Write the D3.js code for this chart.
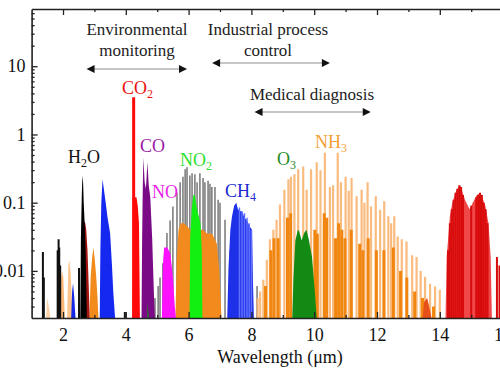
<!DOCTYPE html>
<html><head><meta charset="utf-8">
<script src="https://cdn.jsdelivr.net/npm/d3@7"></script>
<style>
body{margin:0;background:#fff}
svg{display:block}
</style>
</head><body>
<svg id="c" width="500" height="383"></svg>
<script>
// ---------------- data ----------------
const xMajorTicks = [2,4,6,8,10,12,14,16];
const xMinorTicks = [3,5,7,9,11,13,15];
const yTicks = [0.01,0.1,1,10];
const yTickLabels = ["0.01","0.1","1","10"];

// H2O (black)
const h2oSticks = [[1.36,0.019],[1.39,0.008],[1.83,0.02],[1.86,0.029],[1.88,0.022],[1.91,0.012],[2.51,0.011],[3.97,0.0025]];
const h2oBand27 = [[2.55,0.002],[2.57,0.03],[2.6,0.14],[2.62,0.25],[2.64,0.2],[2.66,0.1],[2.69,0.05],[2.72,0.02],[2.74,0.006],[2.76,0.002]];
// H2O 6.3 um band lines (grey)
const h2oSticks63 = [[4.93,0.004],[5.03,0.006],[5.09,0.008],[5.18,0.013],[5.31,0.036],[5.41,0.055],[5.5,0.088],[5.63,0.14],[5.73,0.2],[5.82,0.24],[5.89,0.31],[5.95,0.33],[6.04,0.25],[6.11,0.27],[6.2,0.26],[6.27,0.2],[6.36,0.27],[6.46,0.23],[6.52,0.2],[6.62,0.21],[6.68,0.19],[6.74,0.17],[6.84,0.17],[6.94,0.11],[7.0,0.1],[7.16,0.056],[7.32,0.02],[8.18,0.006]];

// CO2 (red)
const co2Band27 = [[2.62,0.002],[2.64,0.03],[2.67,0.053],[2.71,0.05],[2.74,0.04],[2.78,0.02],[2.82,0.006],[2.85,0.002]];
const co2Band43 = [[4.21,0.002],[4.22,0.12],[4.34,0.12],[4.38,0.09],[4.42,0.05],[4.45,0.002]];
const co2Peak43 = [[4.25,3.5]];
const co2Band15 = [[14.18,0.002],[14.22,0.016],[14.32,0.063],[14.4,0.1],[14.52,0.15],[14.65,0.18],[14.8,0.11],[14.95,0.08],[15.05,0.1],[15.18,0.13],[15.3,0.14],[15.45,0.09],[15.55,0.05],[15.62,0.016],[15.66,0.002]];
const co2Sticks15 = [[14.26,0.02],[14.32,0.05],[14.38,0.08],[14.44,0.11],[14.5,0.14],[14.56,0.16],[14.62,0.18],[14.68,0.17],[14.74,0.13],[15.0,0.09],[15.16,0.12],[15.22,0.13],[15.28,0.14],[15.34,0.13],[15.4,0.1],[15.46,0.08],[15.52,0.05],[15.82,0.016],[15.9,0.012]];
const co2Band137 = [[13.45,0.002],[13.5,0.0035],[13.6,0.004],[13.7,0.0025],[13.74,0.002]];

// CO (purple)
const coBand = [[4.5,0.002],[4.52,0.03],[4.54,0.16],[4.56,0.46],[4.6,0.2],[4.64,0.16],[4.69,0.39],[4.73,0.18],[4.78,0.12],[4.84,0.03],[4.9,0.004],[4.93,0.002]];
// NO (magenta)
const noBand = [[5.15,0.002],[5.18,0.012],[5.22,0.022],[5.32,0.022],[5.42,0.018],[5.5,0.008],[5.56,0.003],[5.6,0.002]];
// NO2 (green)
const no2Band = [[6.03,0.002],[6.05,0.03],[6.1,0.08],[6.15,0.13],[6.2,0.13],[6.25,0.09],[6.3,0.07],[6.38,0.05],[6.42,0.02],[6.44,0.002]];
// CH4 (blue)
const ch4Band23 = [[2.26,0.002],[2.29,0.005],[2.32,0.0066],[2.36,0.004],[2.4,0.002]];
const ch4Band33 = [[3.17,0.002],[3.19,0.02],[3.22,0.1],[3.26,0.22],[3.3,0.16],[3.36,0.1],[3.42,0.06],[3.5,0.036],[3.56,0.012],[3.6,0.005],[3.66,0.002]];
const ch4Band77 = [[7.23,0.002],[7.27,0.011],[7.33,0.04],[7.38,0.062],[7.45,0.09],[7.52,0.1],[7.57,0.08],[7.63,0.075],[7.7,0.075],[7.78,0.06],[7.86,0.055],[7.94,0.045],[8.02,0.04],[8.05,0.007],[8.08,0.002]];
const ch4Sticks77 = [[7.62,0.085],[7.7,0.075],[7.78,0.07],[7.86,0.06],[7.93,0.05],[8.0,0.04]];
// O3 (dark green)
const o3Band96 = [[9.3,0.002],[9.34,0.008],[9.4,0.028],[9.48,0.04],[9.52,0.038],[9.6,0.028],[9.68,0.036],[9.75,0.04],[9.82,0.03],[9.93,0.016],[10.02,0.005],[10.08,0.002]];
const o3Band47 = [[4.68,0.002],[4.7,0.0035],[4.73,0.002]];
// NH3 (orange)
const nh3Band15 = [[1.46,0.002],[1.5,0.004],[1.55,0.003],[1.6,0.002]];
const nh3Band20 = [[1.9,0.002],[1.93,0.007],[1.97,0.01],[2.01,0.008],[2.06,0.002]];
const nh3Band22 = [[2.13,0.002],[2.17,0.012],[2.2,0.0145],[2.24,0.01],[2.28,0.004],[2.31,0.002]];
const nh3Band30 = [[2.84,0.002],[2.88,0.008],[2.93,0.016],[2.97,0.022],[3.01,0.015],[3.06,0.008],[3.1,0.004],[3.13,0.002]];
const nh3Band61 = [[5.58,0.002],[5.62,0.015],[5.68,0.04],[5.75,0.05],[5.85,0.05],[5.95,0.045],[6.05,0.04],[6.45,0.04],[6.6,0.035],[6.75,0.035],[6.9,0.025],[6.98,0.01],[7.05,0.002]];
const nh3Sticks = [[8.2,0.004],[8.28,0.005],[8.38,0.0074],[8.49,0.0146],[8.59,0.029],[8.7,0.04],[8.8,0.056],[8.91,0.094],[9.05,0.155],[9.18,0.22],[9.26,0.24],[9.37,0.26],[9.49,0.31],[9.65,0.34],[9.76,0.155],[9.9,0.31],[10.08,0.39],[10.2,0.3],[10.34,0.54],[10.5,0.17],[10.6,0.18],[10.75,0.54],[10.85,0.2],[11.0,0.24],[11.1,0.15],[11.19,0.23],[11.35,0.124],[11.51,0.155],[11.6,0.1],[11.7,0.2],[11.81,0.088],[11.96,0.124],[12.1,0.079],[12.23,0.105],[12.36,0.063],[12.45,0.05],[12.55,0.063],[12.66,0.032],[12.79,0.029],[12.94,0.027],[13.12,0.017],[13.26,0.016],[13.39,0.01],[13.53,0.0082],[13.69,0.0065],[13.85,0.0059],[14.0,0.0053]];
const nh3StrongSticks = [[8.45,0.006],[8.62,0.02],[8.72,0.03],[8.85,0.03],[9.15,0.06],[9.25,0.07],[9.45,0.015],[10.02,0.04],[10.1,0.035],[10.32,0.07],[10.4,0.06],[10.68,0.03],[10.78,0.05],[10.88,0.04],[10.98,0.03],[11.18,0.04],[11.45,0.025],[11.55,0.02],[11.72,0.03],[11.98,0.02],[12.22,0.02],[12.52,0.022],[12.75,0.01],[12.95,0.008],[13.2,0.005],[13.45,0.004],[13.8,0.003]];

// application ranges (um)
const appNames = [["Environmental","monitoring"],["Industrial process","control"],["Medical diagnosis"]];
const appRanges = [[2.75,5.95],[6.75,10.5],[8.1,11.8]];

// ---------------- drawing ----------------
const FONT = "Liberation Serif";
const svg = d3.select("#c").attr("font-family",FONT);
svg.append("rect").attr("width",500).attr("height",383).attr("fill","#fff");
const X0=31.6, X1=534, Y0=318, Y1=9;
const x = d3.scaleLinear().domain([1,17]).range([X0,X1]);
const y = d3.scaleLog().domain([0.00204,69]).range([Y0,Y1]);

svg.append("clipPath").attr("id","clip").append("rect")
  .attr("x",X0).attr("y",Y1).attr("width",X1-X0).attr("height",Y0-Y1);
const plot = svg.append("g").attr("clip-path","url(#clip)");

const area = d3.area().x(d=>x(d[0])).y0(Y0).y1(d=>y(d[1]));
function band(data, color, op){
  plot.append("path").datum(data).attr("d",area).attr("fill",color).attr("fill-opacity",op==null?1:op);
}
function sticks(data, color, w, op){
  plot.append("g").selectAll("line").data(data).join("line")
    .attr("x1",d=>x(d[0])).attr("x2",d=>x(d[0]))
    .attr("y1",Y0).attr("y2",d=>y(d[1]))
    .attr("stroke",color).attr("stroke-width",w).attr("stroke-opacity",op==null?1:op);
}

// grey H2O lines
sticks(h2oSticks63,"#777",1.5);
// NH3
band(nh3Band15,"#fcd2a4");
band(nh3Band20,"#f9b878");
band(nh3Band22,"#fcc48c");
band(nh3Band30,"#f38a1c");
band(nh3Band61,"#f28a1e");
sticks(nh3Sticks,"#f9b470",2.2,0.9);
sticks(nh3StrongSticks,"#f0860f",3);
// CO2 2.7 + H2O 2.7
band(co2Band27,"#a3140f");
band(h2oBand27,"#000");
sticks(h2oSticks,"#111",2);
// CH4
band(ch4Band23,"#1428e6");
band(ch4Band33,"#1428f0");
band(ch4Band77,"#1e30e8");
sticks(ch4Sticks77,"#6070ff",1.5);
// CO2
band(co2Band43,"#ff0a0a");
sticks(co2Peak43,"#ff0a0a",3);
band(co2Band137,"#e8501a");
band(co2Band15,"#f04848");
sticks(co2Sticks15,"#d80c0c",2);
// CO
band(coBand,"#7a0a86");
// NO
band(noBand,"#ff10ff");
// NO2
band(no2Band,"#12f012");
// O3
band(o3Band47,"#1a8a1a");
band(o3Band96,"#138a13");

// ---------------- axes ----------------
const axisColor="#222";
function styleAxis(g){
  g.attr("font-family",FONT);
  g.selectAll("path.domain").attr("stroke",axisColor).attr("stroke-width",1.6);
  g.selectAll(".tick line").attr("stroke",axisColor).attr("stroke-width",1.3);
  g.selectAll("text").attr("fill","#111").attr("font-size",18).attr("font-family",FONT);
}
const gxB = svg.append("g").attr("transform",`translate(0,${Y0})`)
  .call(d3.axisBottom(x).tickValues(xMajorTicks).tickSize(-6).tickSizeOuter(0).tickPadding(10).tickFormat(d3.format("d")));
styleAxis(gxB);
const gxBm = svg.append("g").attr("transform",`translate(0,${Y0})`)
  .call(d3.axisBottom(x).tickValues(xMinorTicks).tickSize(-3).tickFormat(""));
gxBm.select("path.domain").remove(); styleAxis(gxBm);
const gxT = svg.append("g").attr("transform",`translate(0,${Y1})`)
  .call(d3.axisTop(x).tickValues(xMajorTicks).tickSize(-6).tickSizeOuter(0).tickFormat(""));
styleAxis(gxT);
const gxTm = svg.append("g").attr("transform",`translate(0,${Y1})`)
  .call(d3.axisTop(x).tickValues(xMinorTicks).tickSize(-3).tickFormat(""));
gxTm.select("path.domain").remove(); styleAxis(gxTm);

const gy = svg.append("g").attr("transform",`translate(${X0},0)`)
  .call(d3.axisLeft(y).tickValues(yTicks).tickSize(-6).tickSizeOuter(0).tickPadding(6).tickFormat((d,i)=>yTickLabels[i]));
styleAxis(gy);
const minorY = y.ticks().filter(v=>Math.abs(Math.log10(v)-Math.round(Math.log10(v)))>1e-6);
const gym = svg.append("g").attr("transform",`translate(${X0},0)`)
  .call(d3.axisLeft(y).tickValues(minorY).tickSize(-3).tickFormat(""));
gym.select("path.domain").remove(); styleAxis(gym);

svg.append("text").attr("x",280).attr("y",363).attr("text-anchor","middle")
  .attr("font-family",FONT).attr("font-size",18).attr("fill","#111").text("Wavelength (\u03bcm)");

// ---------------- annotations ----------------
const annText = [
  {lines:appNames[0], cx:137, ys:[35,56], ay:69},
  {lines:appNames[1], cx:268, ys:[35,56], ay:63},
  {lines:appNames[2], cx:312, ys:[100], ay:112}
];
annText.forEach((a,i)=>{
  a.lines.forEach((t,j)=>{
    svg.append("text").attr("x",a.cx).attr("y",a.ys[j]).attr("text-anchor","middle")
      .attr("font-family",FONT).attr("font-size",17).attr("fill","#222").text(t);
  });
  const xa=x(appRanges[i][0]), xb=x(appRanges[i][1]);
  svg.append("line").attr("x1",xa+3).attr("x2",xb-3).attr("y1",a.ay).attr("y2",a.ay)
    .attr("stroke","#c6c6c6").attr("stroke-width",2.2);
  svg.append("path").attr("d",`M${xa},${a.ay}L${xa+8},${a.ay-4}L${xa+8},${a.ay+4}Z`).attr("fill","#111");
  svg.append("path").attr("d",`M${xb},${a.ay}L${xb-8},${a.ay-4}L${xb-8},${a.ay+4}Z`).attr("fill","#111");
});

// ---------------- gas labels ----------------
const gasLabels = [
  {parts:[["H",0],["2",1],["O",0]], x:68, y:163, color:"#111"},
  {parts:[["CO",0],["2",1]], x:122, y:94, color:"#ee1111"},
  {parts:[["CO",0]], x:140, y:152, color:"#9a1aa8"},
  {parts:[["NO",0]], x:152, y:198, color:"#e81ee8"},
  {parts:[["NO",0],["2",1]], x:180, y:166, color:"#2ee02e"},
  {parts:[["CH",0],["4",1]], x:225, y:197, color:"#1a2ad0"},
  {parts:[["O",0],["3",1]], x:277, y:165, color:"#1f8a1f"},
  {parts:[["NH",0],["3",1]], x:315, y:148, color:"#f2a035"}
];
gasLabels.forEach(l=>{
  const t = svg.append("text").attr("x",l.x).attr("y",l.y).attr("font-family",FONT)
    .attr("font-size",18).attr("fill",l.color);
  let prevSub=0;
  l.parts.forEach(p=>{
    const sp = t.append("tspan").text(p[0]);
    if(p[1]){ sp.attr("font-size",12).attr("dy",4); prevSub=1; }
    else if(prevSub){ sp.attr("dy",-4); prevSub=0; }
  });
});
</script>
</body></html>
